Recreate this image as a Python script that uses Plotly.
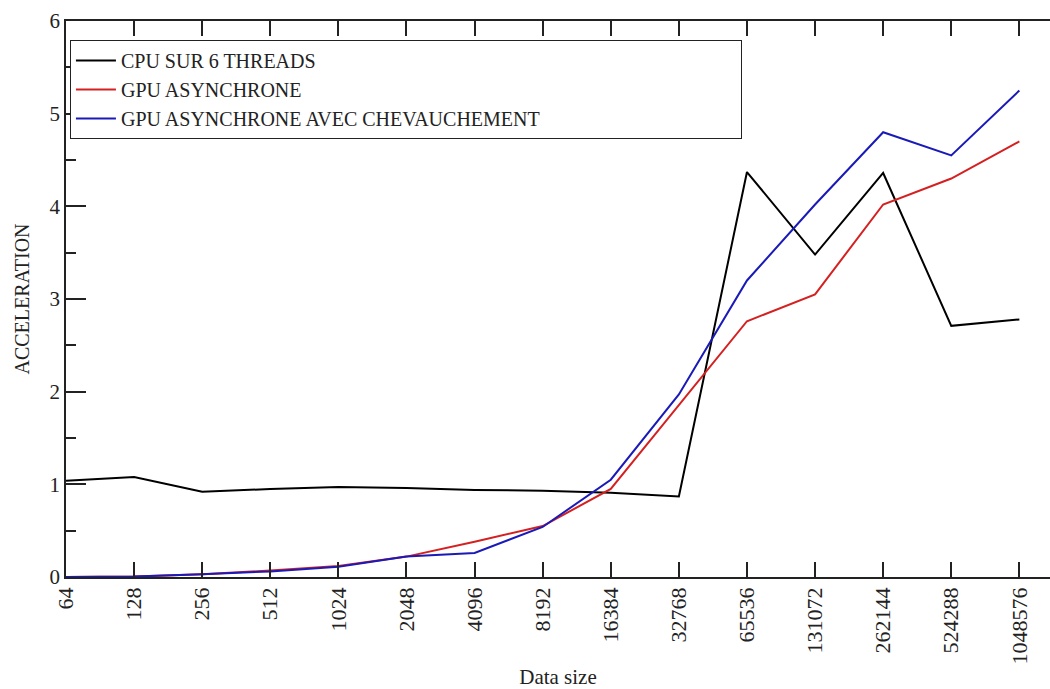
import plotly.graph_objects as go

sizes = ["64", "128", "256", "512", "1024", "2048", "4096", "8192", "16384",
         "32768", "65536", "131072", "262144", "524288", "1048576"]
cpu_6_threads = [1.04, 1.08, 0.92, 0.95, 0.97, 0.96, 0.94, 0.93, 0.91, 0.87,
                 4.37, 3.48, 4.36, 2.71, 2.78]
gpu_async = [0.0, 0.005, 0.03, 0.07, 0.12, 0.22, 0.38, 0.55, 0.95, 1.85,
             2.76, 3.05, 4.02, 4.30, 4.70]
gpu_async_overlap = [0.0, 0.005, 0.03, 0.06, 0.11, 0.22, 0.26, 0.54, 1.05, 1.97,
                     3.20, 4.02, 4.80, 4.55, 5.25]

FONT = "Liberation Serif"
INK = "#222222"

fig = go.Figure()
fig.add_trace(go.Scatter(x=sizes, y=cpu_6_threads, mode="lines", name="CPU SUR 6 THREADS",
                         line=dict(color="#000000", width=2)))
fig.add_trace(go.Scatter(x=sizes, y=gpu_async, mode="lines", name="GPU ASYNCHRONE",
                         line=dict(color="#d42020", width=2)))
fig.add_trace(go.Scatter(x=sizes, y=gpu_async_overlap, mode="lines",
                         name="GPU ASYNCHRONE AVEC CHEVAUCHEMENT",
                         line=dict(color="#1a1ab8", width=2)))

fig.update_layout(
    width=1050, height=689,
    margin=dict(l=66, r=0, t=21, b=112, autoexpand=False),
    paper_bgcolor="white", plot_bgcolor="white",
    font=dict(family=FONT, color=INK),
    showlegend=True,
    legend=dict(x=0.004, y=0.966, xanchor="left", yanchor="top",
                orientation="h", entrywidth=615, entrywidthmode="pixels",
                bgcolor="white", bordercolor=INK, borderwidth=1,
                font=dict(family=FONT, size=20, color=INK),
                tracegroupgap=0, itemwidth=40),
    xaxis=dict(type="category", range=[0, 14.45], showgrid=False, zeroline=False,
               automargin=False,
               showline=True, linecolor=INK, linewidth=1.5, mirror="ticks",
               ticks="inside", ticklen=15, tickwidth=1.5, tickcolor=INK,
               tickangle=-90, tickfont=dict(family=FONT, size=22, color=INK),
               title=dict(text="Data size", font=dict(family=FONT, size=21, color=INK))),
    yaxis=dict(range=[0, 6], dtick=1, showgrid=False, zeroline=False,
               automargin=False,
               showline=True, linecolor=INK, linewidth=1.5,
               ticks="inside", ticklen=20, tickwidth=1.5, tickcolor=INK,
               minor=dict(ticks="inside", ticklen=10, dtick=0.5, tickwidth=1.5,
                          tickcolor=INK),
               tickfont=dict(family=FONT, size=21, color=INK),
               title=dict(text="ACCELERATION", font=dict(family=FONT, size=20, color=INK))),
    yaxis2=dict(range=[0, 6], dtick=1, overlaying="y", side="right", showgrid=False,
                zeroline=False, showline=False, showticklabels=False, automargin=False,
                ticks="inside", ticklen=20, tickwidth=1.5, tickcolor=INK,
                minor=dict(ticks="inside", ticklen=10, dtick=0.5, tickwidth=1.5,
                           tickcolor=INK)),
)

fig.write_html("out.html")
